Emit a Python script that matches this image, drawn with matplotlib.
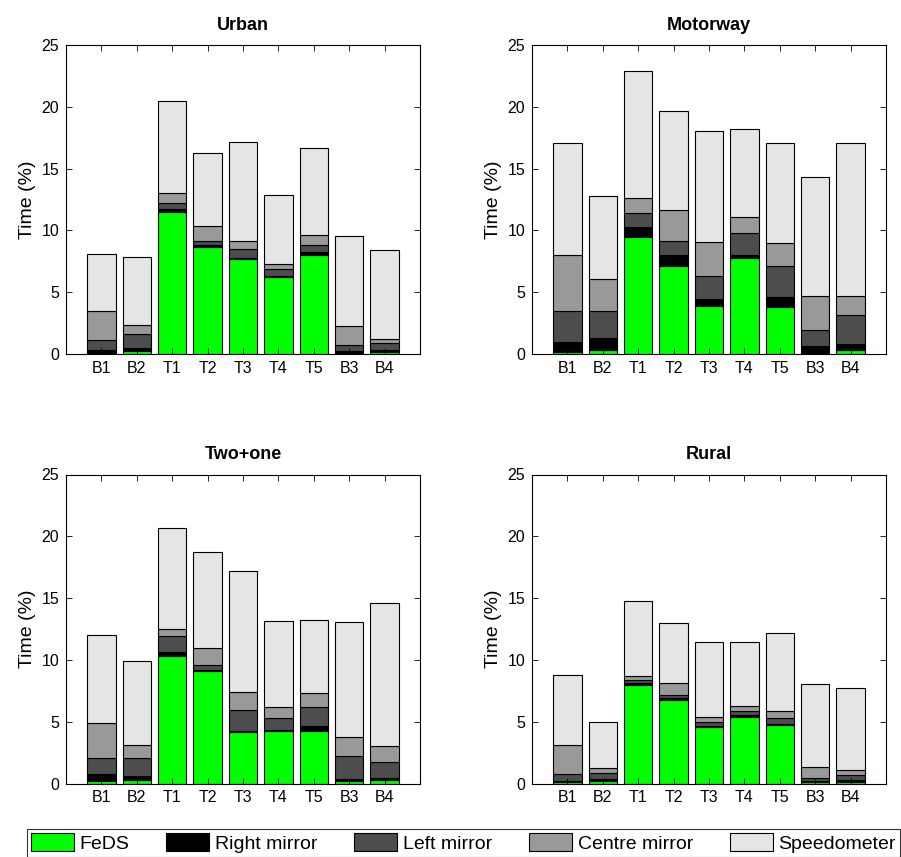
import matplotlib
matplotlib.use("Agg")
import matplotlib.pyplot as plt
import numpy as np

plt.rcParams['font.family'] = ['Liberation Sans', 'DejaVu Sans']

categories = ["B1", "B2", "T1", "T2", "T3", "T4", "T5", "B3", "B4"]
series_names = ["FeDS", "Right mirror", "Left mirror", "Centre mirror", "Speedometer"]
series_colors = ["#00ff00", "#000000", "#4d4d4d", "#999999", "#e5e5e5"]

# Urban
urban_feds = [0.10, 0.27, 11.48, 8.65, 7.65, 6.22, 8.05, 0.08, 0.20]
urban_right = [0.20, 0.21, 0.27, 0.13, 0.11, 0.11, 0.17, 0.14, 0.15]
urban_left = [0.85, 1.11, 0.45, 0.38, 0.73, 0.54, 0.56, 0.47, 0.50]
urban_centre = [2.35, 0.75, 0.80, 1.16, 0.67, 0.40, 0.86, 1.61, 0.40]
urban_speedo = [4.60, 5.53, 7.45, 5.92, 7.97, 5.61, 7.01, 7.24, 7.15]

# Motorway
motorway_feds = [0.16, 0.30, 9.43, 7.16, 3.86, 7.73, 3.81, 0.08, 0.30]
motorway_right = [0.84, 0.97, 0.87, 0.81, 0.60, 0.32, 0.81, 0.60, 0.54]
motorway_left = [2.46, 2.19, 1.11, 1.19, 1.86, 1.76, 2.52, 1.24, 2.29]
motorway_centre = [4.59, 2.59, 1.18, 2.46, 2.76, 1.30, 1.86, 2.81, 1.57]
motorway_speedo = [9.03, 6.73, 10.30, 8.08, 9.00, 7.13, 8.08, 9.62, 12.38]

# Two+one
twoone_feds = [0.24, 0.30, 10.30, 9.11, 4.14, 4.27, 4.27, 0.17, 0.30]
twoone_right = [0.52, 0.32, 0.32, 0.11, 0.13, 0.08, 0.35, 0.18, 0.15]
twoone_left = [1.27, 1.41, 1.33, 0.37, 1.68, 0.95, 1.57, 1.90, 1.30]
twoone_centre = [2.86, 1.05, 0.56, 1.41, 1.46, 0.89, 1.11, 1.50, 1.25]
twoone_speedo = [7.11, 6.84, 8.14, 7.73, 9.75, 6.95, 5.94, 9.35, 11.60]

# Rural
rural_feds = [0.14, 0.22, 7.95, 6.73, 4.57, 5.41, 4.70, 0.11, 0.14]
rural_right = [0.08, 0.13, 0.16, 0.16, 0.08, 0.10, 0.11, 0.11, 0.13]
rural_left = [0.51, 0.46, 0.27, 0.27, 0.35, 0.33, 0.46, 0.24, 0.40]
rural_centre = [2.38, 0.46, 0.35, 0.98, 0.41, 0.40, 0.57, 0.86, 0.46]
rural_speedo = [5.70, 3.68, 6.03, 4.83, 6.00, 5.22, 6.32, 6.76, 6.57]

panels = [
    ("Urban", [urban_feds, urban_right, urban_left, urban_centre, urban_speedo]),
    ("Motorway", [motorway_feds, motorway_right, motorway_left, motorway_centre, motorway_speedo]),
    ("Two+one", [twoone_feds, twoone_right, twoone_left, twoone_centre, twoone_speedo]),
    ("Rural", [rural_feds, rural_right, rural_left, rural_centre, rural_speedo]),
]

W, H = 901, 857
fig = plt.figure(figsize=(W / 100, H / 100), dpi=100)

ax_w = 354 / W
ax_h = 309 / H
lefts = [66 / W, 532 / W]
bottoms = [(H - 354) / H, (H - 783.5) / H]

x = np.arange(1, len(categories) + 1)
handles = None
for i, (title, series) in enumerate(panels):
    r, c = divmod(i, 2)
    ax = fig.add_axes([lefts[c], bottoms[r], ax_w, ax_h])
    bottom = np.zeros(len(categories))
    hs = []
    for vals, name, col in zip(series, series_names, series_colors):
        v = np.array(vals)
        h = ax.bar(x, v, width=0.8, bottom=bottom, color=col, edgecolor="black",
                   linewidth=0.8, label=name)
        hs.append(h)
        bottom = bottom + v
    handles = hs
    ax.set_xlim(0, 10)
    ax.set_ylim(0, 25)
    ax.set_xticks(x)
    ax.set_xticklabels(categories)
    ax.set_yticks([0, 5, 10, 15, 20, 25])
    ax.tick_params(direction="in", top=True, right=True, length=4, width=0.6,
                   labelsize=11.5, pad=5)
    ax.set_ylabel("Time (%)", fontsize=14, labelpad=4)
    ax.set_title(title, fontsize=13, fontweight="bold", pad=11)
    for s in ax.spines.values():
        s.set_linewidth(0.8)

leg = fig.legend(handles, series_names, loc="lower left",
                 bbox_to_anchor=(27 / W, 0.5 / H, (900 - 27) / W, 31 / H),
                 mode="expand", ncol=5, frameon=True, fancybox=False,
                 edgecolor="black", borderaxespad=0,
                 handlelength=2.2, handleheight=1.1, handletextpad=0.3,
                 borderpad=0.2, columnspacing=0.6,
                 prop={'family': ['Liberation Sans'], 'size': 14})
leg.get_frame().set_linewidth(0.8)

fig.savefig("out.png", dpi=100, facecolor="white")
